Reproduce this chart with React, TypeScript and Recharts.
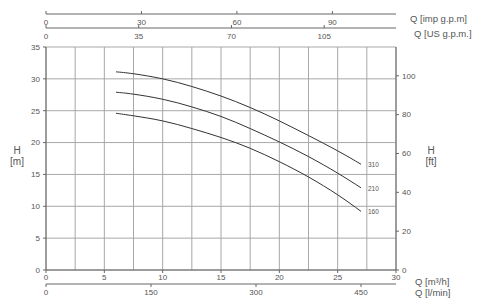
import { ComposedChart, Line, XAxis, YAxis, CartesianGrid, Label } from "recharts";

// flow in m3/h and head in m
const flow = [6, 7.5, 10, 12.5, 15, 17.5, 20, 22.5, 25, 27];
const head310 = [31.1, 30.8, 30.0, 28.8, 27.3, 25.5, 23.4, 21.1, 18.7, 16.6];
const head210 = [27.9, 27.6, 26.8, 25.6, 24.1, 22.2, 20.1, 17.8, 15.2, 12.9];
const head160 = [24.6, 24.2, 23.4, 22.2, 20.8, 19.1, 17.0, 14.6, 11.8, 9.2];

const qTicks = [0, 5, 10, 15, 20, 25, 30];
const lpmTicks = [0, 150, 300, 450];
const impTicks = [0, 30, 60, 90];
const usTicks = [0, 35, 70, 105];
const mTicks = [0, 5, 10, 15, 20, 25, 30, 35];
const ftTicks = [0, 20, 40, 60, 80, 100];
const gridQ = [0, 2.5, 5, 7.5, 10, 12.5, 15, 17.5, 20, 22.5, 25, 27.5, 30];
const gridH = [0, 2.5, 5, 7.5, 10, 12.5, 15, 17.5, 20, 22.5, 25, 27.5, 30, 32.5, 35];

const data = flow.map((q, i) => ({
	q,
	h310: head310[i],
	h210: head210[i],
	h160: head160[i],
}));

const FONT = "'Liberation Sans', Arial, sans-serif";
const TEXT = "#555";
const AXIS = "#666";
const tickStyle = { fill: TEXT, fontSize: 8, fontFamily: FONT };

// top axes: labels sit under the axis line
const TopTick = (props: any) => {
	const { x, y, payload } = props;
	return (
		<text x={x} y={y + 16} textAnchor="middle" fill={TEXT} fontSize={8} fontFamily={FONT}>
			{payload.value}
		</text>
	);
};

const unitLabel = (text: string, dx: number, dy: number) => (props: any) => {
	const vb = props.viewBox;
	return (
		<text
			x={vb.x + vb.width + dx}
			y={vb.y + vb.height / 2 + dy}
			fill={TEXT}
			fontSize={9.5}
			fontFamily={FONT}
			dominantBaseline="central"
		>
			{text}
		</text>
	);
};

const hLabel = (unit: string, cx: number) => (props: any) => {
	const vb = props.viewBox;
	return (
		<text fill={TEXT} fontSize={10} fontFamily={FONT} textAnchor="middle">
			<tspan x={vb.x + cx} y={vb.y + 107}>H</tspan>
			<tspan x={vb.x + cx} y={vb.y + 118}>{unit}</tspan>
		</text>
	);
};

const curveLabel = (text: string) => (props: any) => {
	if (props.index !== flow.length - 1) return null;
	return (
		<text x={props.x + 7} y={props.y + 3} fill={TEXT} fontSize={6.5} fontFamily={FONT}>
			{text}
		</text>
	);
};

const PumpChart = () => {
	return (
		<div style={{ position: "absolute", left: 0, top: 0 }}>
			<ComposedChart
				width={480}
				height={303}
				data={data}
				margin={{ top: 0, right: 0, bottom: 0, left: 0 }}
			>
				<CartesianGrid
					xAxisId="a_q"
					yAxisId="m"
					verticalValues={gridQ}
					horizontalValues={gridH}
					stroke="#a8a8a8"
				/>
				<XAxis
					xAxisId="a_q"
					dataKey="q"
					type="number"
					domain={[0, 30]}
					ticks={qTicks}
					height={14}
					tickSize={3}
					tickMargin={1}
					stroke={AXIS}
					tick={tickStyle}
				>
					<Label content={unitLabel("Q [m³/h]", 19, 4)} />
				</XAxis>
				<XAxis
					xAxisId="b_lpm"
					dataKey="lpm"
					type="number"
					domain={[0, 500]}
					allowDataOverflow
					ticks={lpmTicks}
					interval={0}
					height={19}
					tickSize={3}
					tickMargin={2}
					stroke={AXIS}
					tick={tickStyle}
				>
					<Label content={unitLabel("Q [l/min]", 19, -1)} />
				</XAxis>
				<XAxis
					xAxisId="c_spacer"
					dataKey="q"
					orientation="top"
					type="number"
					domain={[0, 30]}
					allowDataOverflow
					height={19}
					tick={false}
					axisLine={false}
					tickLine={false}
				/>
				<XAxis
					xAxisId="d_us"
					dataKey="usgpm"
					orientation="top"
					type="number"
					domain={[0, 132.1]}
					allowDataOverflow
					ticks={usTicks}
					interval={0}
					height={14}
					tickSize={3}
					tickMargin={2}
					stroke={AXIS}
					tick={<TopTick />}
				>
					<Label content={unitLabel("Q [US g.p.m.]", 18, 12)} />
				</XAxis>
				<XAxis
					xAxisId="e_imp"
					dataKey="impgpm"
					orientation="top"
					type="number"
					domain={[0, 110]}
					allowDataOverflow
					ticks={impTicks}
					interval={0}
					height={14}
					tickSize={3}
					tickMargin={2}
					stroke={AXIS}
					tick={<TopTick />}
				>
					<Label content={unitLabel("Q [imp g.p.m]", 14, 11)} />
				</XAxis>
				<YAxis
					yAxisId="m"
					type="number"
					domain={[0, 35]}
					ticks={mTicks}
					width={46}
					tickSize={3}
					tickMargin={3}
					stroke={AXIS}
					tick={tickStyle}
				>
					<Label content={hLabel("[m]", 17)} />
				</YAxis>
				<YAxis
					yAxisId="ft"
					orientation="right"
					type="number"
					domain={[0, 114.83]}
					allowDataOverflow
					ticks={ftTicks}
					interval={0}
					width={84}
					tickSize={3}
					tickMargin={3}
					stroke={AXIS}
					tick={tickStyle}
				>
					<Label content={hLabel("[ft]", 35)} />
				</YAxis>
				<Line
					xAxisId="a_q"
					yAxisId="m"
					dataKey="h310"
					type="natural"
					stroke="#333"
					strokeWidth={1}
					dot={false}
					label={curveLabel("310")}
					isAnimationActive={false}
				/>
				<Line
					xAxisId="a_q"
					yAxisId="m"
					dataKey="h210"
					type="natural"
					stroke="#333"
					strokeWidth={1}
					dot={false}
					label={curveLabel("210")}
					isAnimationActive={false}
				/>
				<Line
					xAxisId="a_q"
					yAxisId="m"
					dataKey="h160"
					type="natural"
					stroke="#333"
					strokeWidth={1}
					dot={false}
					label={curveLabel("160")}
					isAnimationActive={false}
				/>
			</ComposedChart>
		</div>
	);
};

export default PumpChart;
